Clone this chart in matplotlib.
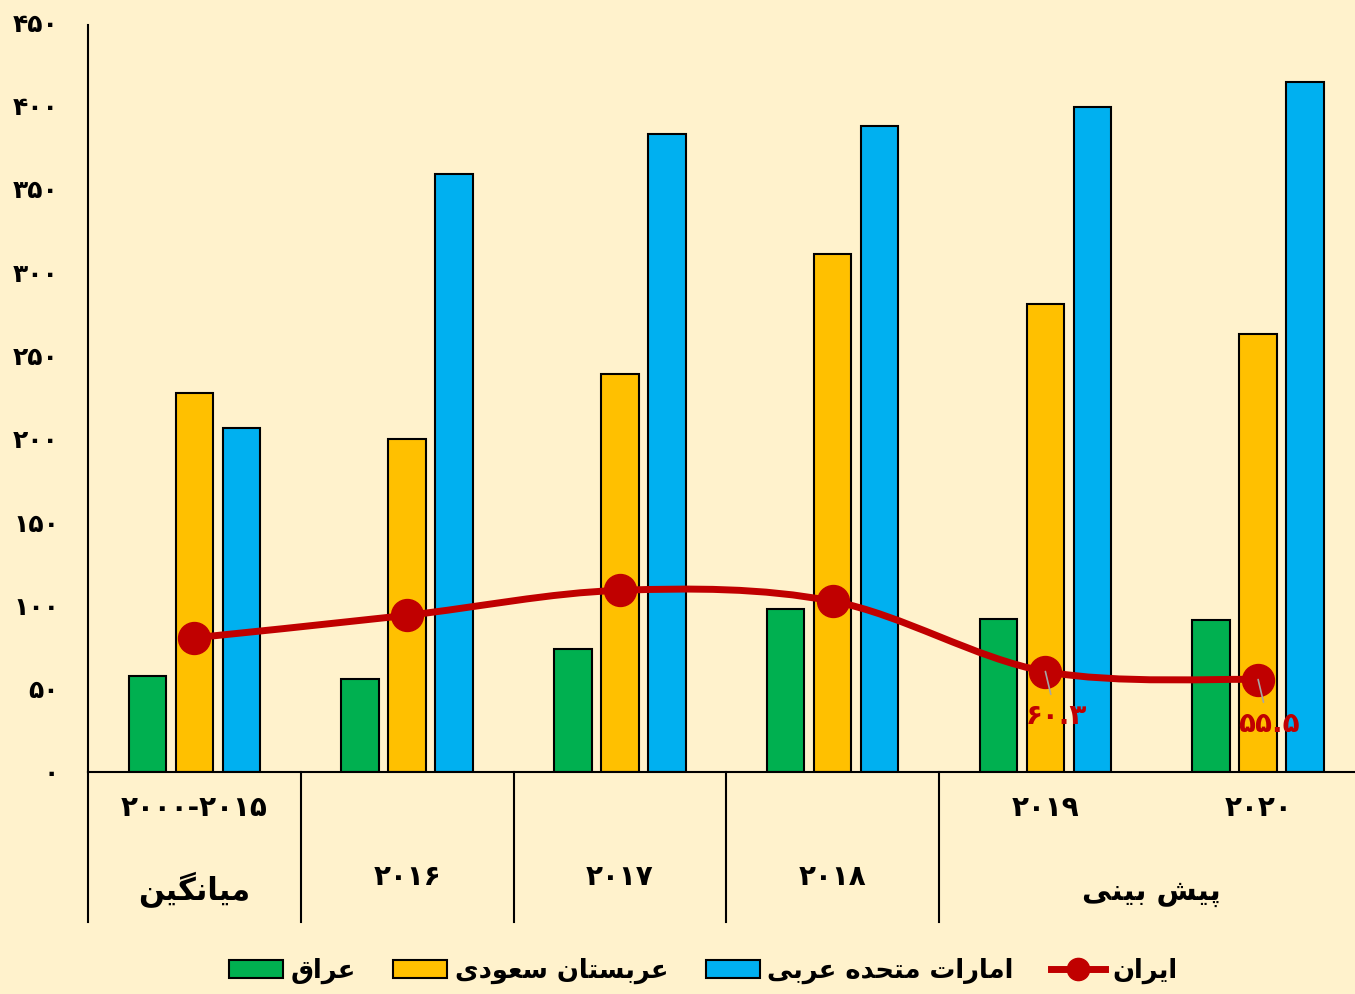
import numpy as np
import matplotlib.pyplot as plt
from matplotlib.path import Path
from matplotlib.patches import PathPatch
from matplotlib.lines import Line2D

# --- داده ها ---
categories = ["۲۰۰۰-۲۰۱۵", "۲۰۱۶", "۲۰۱۷", "۲۰۱۸", "۲۰۱۹", "۲۰۲۰"]
series_names = ["عراق", "عربستان سعودی", "امارات متحده عربی", "ایران"]
iraq = [57.5, 56, 74, 98, 92, 91]
saudi = [227.5, 200, 239, 311, 281, 263]
uae = [206.5, 359, 383, 387.5, 399, 414]
iran = [80.5, 94, 109, 102.5, 60.3, 55.5]
iran_labels = ["", "", "", "", "۶۰.۳", "۵۵.۵"]
yticks = [0, 50, 100, 150, 200, 250, 300, 350, 400, 450]
group_avg = "میانگین"
group_forecast = "پیش بینی"

colors = ["#00B050", "#FFC000", "#00B0F0", "#C00000"]
bg = "#FFF2CC"

# matplotlib حروف فارسی را به هم نمی چسباند، پس شکل حروف را دستی انتخاب می کنیم
FORMS = {
    'ا': ('\uFE8D', '\uFE8E', None, None),
    'ب': ('\uFE8F', '\uFE90', '\uFE91', '\uFE92'),
    'پ': ('\uFB56', '\uFB57', '\uFB58', '\uFB59'),
    'ت': ('\uFE95', '\uFE96', '\uFE97', '\uFE98'),
    'ح': ('\uFEA1', '\uFEA2', '\uFEA3', '\uFEA4'),
    'د': ('\uFEA9', '\uFEAA', None, None),
    'ر': ('\uFEAD', '\uFEAE', None, None),
    'س': ('\uFEB1', '\uFEB2', '\uFEB3', '\uFEB4'),
    'ش': ('\uFEB5', '\uFEB6', '\uFEB7', '\uFEB8'),
    'ع': ('\uFEC9', '\uFECA', '\uFECB', '\uFECC'),
    'ق': ('\uFED5', '\uFED6', '\uFED7', '\uFED8'),
    'گ': ('\uFB92', '\uFB93', '\uFB94', '\uFB95'),
    'م': ('\uFEE1', '\uFEE2', '\uFEE3', '\uFEE4'),
    'ن': ('\uFEE5', '\uFEE6', '\uFEE7', '\uFEE8'),
    'و': ('\uFEED', '\uFEEE', None, None),
    'ه': ('\uFEE9', '\uFEEA', '\uFEEB', '\uFEEC'),
    'ی': ('\uFBFC', '\uFBFD', '\uFBFE', '\uFBFF'),
}
FORMS['\u064A'] = FORMS['ی']


def fa(text):
    out = []
    for i, ch in enumerate(text):
        f = FORMS.get(ch)
        if f is None:
            out.append(ch)
            continue
        prev = text[i - 1] if i > 0 else ''
        nxt = text[i + 1] if i + 1 < len(text) else ''
        jp = prev in FORMS and FORMS[prev][2] is not None
        jn = nxt in FORMS and f[2] is not None
        if jp and jn:
            out.append(f[3])
        elif jp:
            out.append(f[1])
        elif jn:
            out.append(f[2])
        else:
            out.append(f[0])
    return ''.join(reversed(out))


def fa_num(v):
    return str(v).translate(str.maketrans("0123456789", "۰۱۲۳۴۵۶۷۸۹"))


plt.rcParams['font.family'] = ['DejaVu Sans']
plt.rcParams['font.weight'] = 'bold'

fig = plt.figure(figsize=(13.55, 9.94), dpi=100, facecolor=bg)
# محور کمی از لبه راست تصویر بیرون می زند، مثل نمودار اصلی
ax = fig.add_axes([88 / 1355, 1 - 772 / 994, 1276.5 / 1355, 750 / 994])
ax.set_facecolor(bg)

x = np.arange(len(categories))
w = 0.176
off = 0.221
bars = []
for k, vals in enumerate([iraq, saudi, uae]):
    b = ax.bar(x + (k - 1) * off, vals, w, color=colors[k], edgecolor="black",
               linewidth=1.5, zorder=2)
    bars.append(b)

# خط نرم ایران (Catmull-Rom)
pts = np.column_stack([x, iran]).astype(float)
verts = [pts[0]]
codes = [Path.MOVETO]
for i in range(len(pts) - 1):
    p0 = pts[max(i - 1, 0)]
    p1 = pts[i]
    p2 = pts[i + 1]
    p3 = pts[min(i + 2, len(pts) - 1)]
    verts += [p1 + (p2 - p0) / 6, p2 - (p3 - p1) / 6, p2]
    codes += [Path.CURVE4] * 3
ax.add_patch(PathPatch(Path(verts, codes), facecolor="none", edgecolor=colors[3],
                       linewidth=5, capstyle="round", zorder=3))
ax.plot(x, iran, "o", color=colors[3], markersize=23, zorder=4)

for i, lab in enumerate(iran_labels):
    if lab:
        ax.annotate(lab, (x[i], iran[i]), xytext=(x[i] + 0.05, iran[i] - 27),
                    ha="center", va="center", color=colors[3], fontsize=20,
                    fontweight="bold", zorder=5,
                    arrowprops=dict(arrowstyle="-", color="#A6A6A6", lw=1.2,
                                    shrinkA=4, shrinkB=0))

ax.set_xlim(-0.5, len(categories) - 0.5)
ax.set_ylim(0, 450)
ax.set_yticks(yticks)
ax.set_yticklabels([fa_num(t) for t in yticks], fontsize=18, fontweight="bold")
ax.tick_params(axis="y", length=0, pad=21)
ax.set_xticks([])
for s in ["top", "right"]:
    ax.spines[s].set_visible(False)
ax.spines["left"].set_linewidth(1.5)
ax.spines["left"].set_bounds(0, 448)
ax.spines["bottom"].set_linewidth(1.5)

# برچسب های دو سطحی محور افقی
tr = ax.get_xaxis_transform()
for sx in [-0.5, 0.5, 1.5, 2.5, 3.5]:
    ax.plot([sx, sx], [0, -0.2], transform=tr, color="black", lw=1.5, clip_on=False)
row1 = [True, False, False, False, True, True]
for i, c in enumerate(categories):
    yy = -0.048 if row1[i] else -0.14
    ax.text(x[i], yy, c, transform=tr, ha="center", va="center", fontsize=20,
            fontweight="bold")
ax.text(x[0], -0.157, fa(group_avg), transform=tr, ha="center", va="center",
        fontsize=22, fontweight="bold")
ax.text((x[4] + x[5]) / 2, -0.161, fa(group_forecast), transform=tr, ha="center",
        va="center", fontsize=21, fontweight="bold")

handles = bars + [Line2D([], [], color=colors[3], lw=5, marker="o", markersize=16)]
fig.legend(handles, [fa(n) for n in series_names], loc="center",
           bbox_to_anchor=(0.519, 0.023), ncol=4, frameon=False, fontsize=18.5,
           handlelength=2.1, handletextpad=0.3, columnspacing=1.45)

fig.savefig("out.png", dpi=100, facecolor=bg)
